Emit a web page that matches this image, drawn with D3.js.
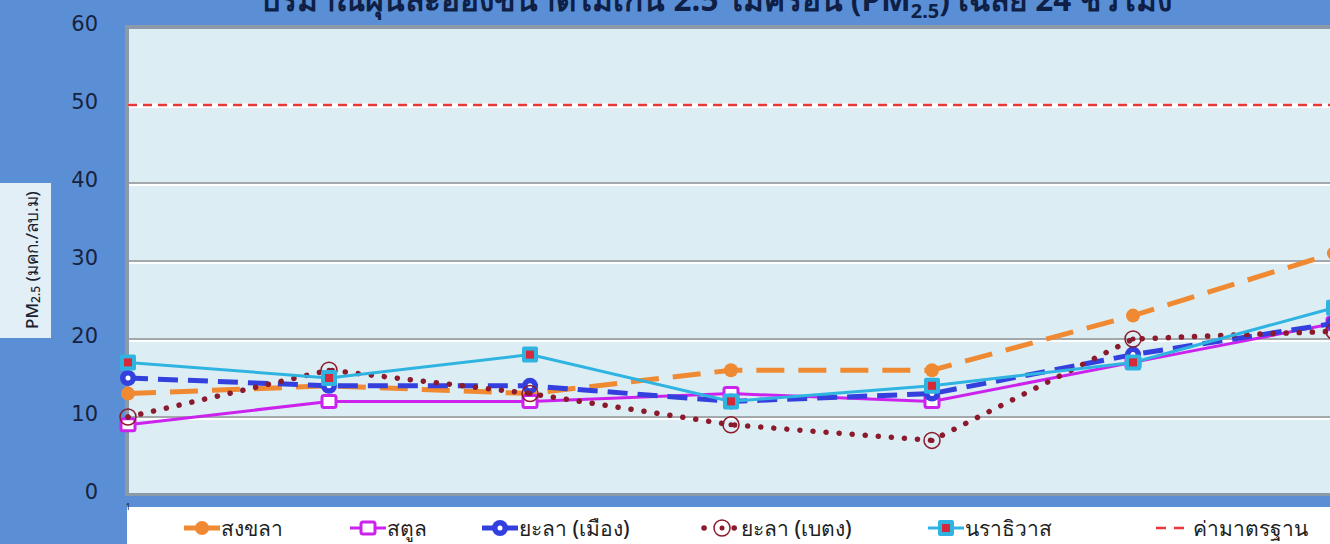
<!DOCTYPE html>
<html>
<head>
<meta charset="utf-8">
<script src="https://cdn.jsdelivr.net/npm/d3@7"></script>
<style>
  html, body { margin: 0; padding: 0; background: #5b8fd5; }
  svg { display: block; font-family: "Noto Sans", Tahoma, sans-serif; }
</style>
</head>
<body>
<svg id="chart" width="1330" height="544"></svg>
<script>
// --- Data ---
const categories = ["1", "2", "3", "4", "5", "6", "7"];
const songkhla = [13, 14, 13, 16, 16, 23, 31];
const satun = [9, 12, 12, 13, 12, 17, 22];
const yalaMueang = [15, 14, 14, 12, 13, 18, 22];
const yalaBetong = [10, 16, 13, 9, 7, 20, 21];
const narathiwat = [17, 15, 18, 12, 14, 17, 24];
const standard = [50, 50, 50, 50, 50, 50, 50];
const yTicks = [0, 10, 20, 30, 40, 50, 60];

const titleText = "ปริมาณฝุ่นละอองขนาดไม่เกิน 2.5 ไมครอน (PM";
const yLabel = "PM";

// --- Setup ---
const width = 1330, height = 544;
const svg = d3.select("#chart");

const x = d3.scalePoint().domain(categories).range([128, 1334]);
const y = d3.scaleLinear().domain([0, 60]).range([495, 27]);

// background
svg.append("rect").attr("width", width).attr("height", height).attr("fill", "#5b8fd5");

// plot area (with a grey frame shadow)
svg.append("rect")
    .attr("x", 125).attr("y", 25).attr("width", width).attr("height", 471)
    .attr("fill", "#8c99a8");
svg.append("rect")
    .attr("x", 129).attr("y", 29).attr("width", width).attr("height", 464)
    .attr("fill", "#dcedf3");

// gridlines
const grid = svg.append("g");
grid.selectAll("line.w")
    .data(yTicks.filter(d => d > 0 && d < 60))
    .enter().append("line")
    .attr("x1", 129).attr("x2", width)
    .attr("y1", d => y(d) + 2).attr("y2", d => y(d) + 2)
    .attr("stroke", "#ffffff").attr("stroke-width", 2);
grid.selectAll("line.g")
    .data(yTicks.filter(d => d > 0 && d < 60))
    .enter().append("line")
    .attr("x1", 129).attr("x2", width)
    .attr("y1", d => y(d)).attr("y2", d => y(d))
    .attr("stroke", "#a3a8ad").attr("stroke-width", 2);

// y tick labels
svg.append("g").selectAll("text")
    .data(yTicks)
    .enter().append("text")
    .attr("x", 98).attr("y", d => y(d) - 3)
    .attr("text-anchor", "end").attr("dominant-baseline", "central")
    .attr("font-family", "DejaVu Sans, sans-serif")
    .attr("font-size", 21).attr("fill", "#17223f")
    .text(d => d);

// y axis title box
svg.append("rect").attr("x", 0).attr("y", 183).attr("width", 51).attr("height", 155).attr("fill", "#e2eff6");
const yt = svg.append("text")
    .attr("transform", "translate(31,260) rotate(-90)")
    .attr("text-anchor", "middle").attr("dominant-baseline", "central")
    .attr("font-size", 17).attr("font-weight", 500).attr("fill", "#1a2230");
yt.append("tspan").text(yLabel);
yt.append("tspan").attr("font-size", 12).attr("dy", 4).text("2.5");
yt.append("tspan").attr("dy", -4).text(" (มคก./ลบ.ม)");

// title (cut by the top edge, as in the source picture)
const tt = svg.append("text")
    .attr("x", 716).attr("y", 11)
    .attr("text-anchor", "middle")
    .attr("font-size", 31.5).attr("font-weight", "bold").attr("fill", "#0f1f45");
tt.append("tspan").text(titleText);
tt.append("tspan").attr("font-size", 20).attr("dy", 7).text("2.5");
tt.append("tspan").attr("dy", -7).text(") เฉลี่ย 24 ชั่วโมง");

// --- Series ---
const series = [
    { name: "สงขลา", values: songkhla, color: "#f08a32", width: 5, dash: "28,14", marker: "dot" },
    { name: "สตูล", values: satun, color: "#cc22ee", width: 3, dash: null, marker: "square" },
    { name: "ยะลา (เมือง)", values: yalaMueang, color: "#3340dd", width: 5, dash: "20,10", marker: "ring" },
    { name: "ยะลา (เบตง)", values: yalaBetong, color: "#8a1a2c", width: 5.5, dash: "0.1,13", marker: "target" },
    { name: "นราธิวาส", values: narathiwat, color: "#2fb4e2", width: 3, dash: null, marker: "redsquare" },
    { name: "ค่ามาตรฐาน", values: standard, color: "#e8383a", width: 2.5, dash: "9,6", marker: null }
];

const line = d3.line()
    .x((d, i) => x(categories[i]))
    .y(d => y(d));

const plot = svg.append("g");

function drawMarker(g, m, color) {
    if (m === "dot") {
        g.append("circle").attr("r", 7).attr("fill", color);
    } else if (m === "square") {
        g.append("rect").attr("x", -7).attr("y", -6).attr("width", 14).attr("height", 12).attr("rx", 2)
            .attr("fill", "#ffffff").attr("stroke", color).attr("stroke-width", 3);
    } else if (m === "ring") {
        g.append("circle").attr("r", 8).attr("fill", color);
        g.append("circle").attr("r", 2.5).attr("fill", "#ffffff");
    } else if (m === "target") {
        g.append("circle").attr("r", 8).attr("fill", "none").attr("stroke", color).attr("stroke-width", 1.5);
        g.append("circle").attr("r", 2.5).attr("fill", color);
    } else if (m === "redsquare") {
        g.append("rect").attr("x", -8).attr("y", -8).attr("width", 16).attr("height", 16).attr("rx", 2)
            .attr("fill", color);
        g.append("rect").attr("x", -4).attr("y", -4).attr("width", 8).attr("height", 8).attr("fill", "#d42a3a");
    }
}

// standard line first (white under-line)
const std = series[5];
plot.append("path").datum(std.values).attr("d", line)
    .attr("fill", "none").attr("stroke", "#ffffff").attr("stroke-width", 3);

series.forEach(s => {
    plot.append("path").datum(s.values).attr("d", line)
        .attr("fill", "none").attr("stroke", s.color).attr("stroke-width", s.width)
        .attr("stroke-linecap", s.marker === "target" ? "round" : "butt")
        .attr("stroke-dasharray", s.dash);
    if (s.marker) {
        s.values.forEach((v, i) => {
            const g = plot.append("g").attr("transform", `translate(${x(categories[i])},${y(v)})`);
            drawMarker(g, s.marker, s.color);
        });
    }
});

// --- Legend ---
svg.append("rect").attr("x", 127).attr("y", 507).attr("width", width).attr("height", 40).attr("fill", "#ffffff");
svg.append("text").attr("x", 128).attr("y", 510).attr("text-anchor", "middle")
    .attr("font-size", 9).attr("fill", "#222").text(categories[0]);

const legendX = [184, 350, 482, 704, 928, 1156];
const lg = svg.append("g");
series.forEach((s, i) => {
    const g = lg.append("g").attr("transform", `translate(${legendX[i]},528)`);
    g.append("line").attr("x1", 0).attr("x2", 36).attr("y1", 0).attr("y2", 0)
        .attr("stroke", s.color).attr("stroke-width", s.width)
        .attr("stroke-linecap", s.marker === "target" ? "round" : "butt")
        .attr("stroke-dasharray", s.marker === "target" ? "0.1,30" : (s.marker ? null : "10,8"));
    if (s.marker) {
        const mg = g.append("g").attr("transform", "translate(18,0)");
        drawMarker(mg, s.marker, s.color);
    }
    g.append("text").attr("x", 37).attr("y", 0).attr("dominant-baseline", "central")
        .attr("font-size", 21).attr("font-weight", 500).attr("fill", "#1f1f1f").text(s.name);
});
</script>
</body>
</html>
